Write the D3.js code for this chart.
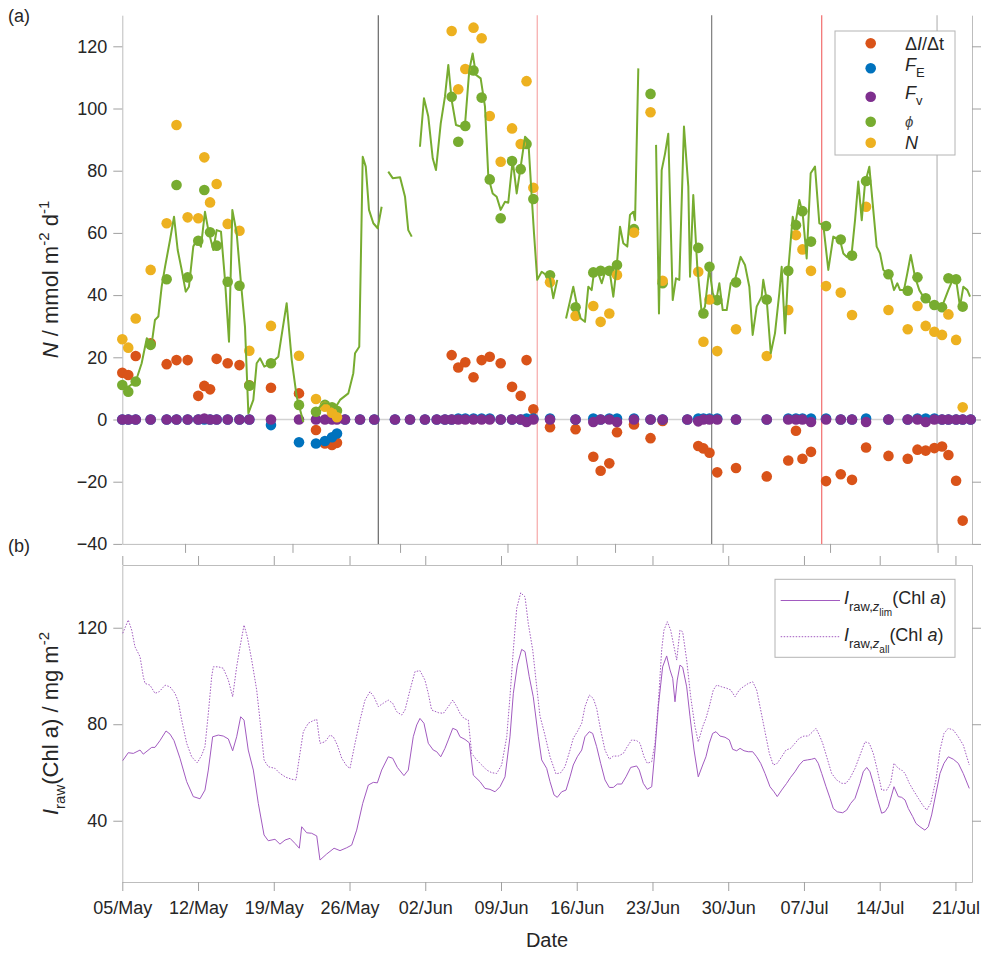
<!DOCTYPE html>
<html><head><meta charset="utf-8">
<script src="https://cdn.jsdelivr.net/npm/d3@7/dist/d3.min.js"></script>
<style>
body{margin:0;background:#fff}
svg{display:block}
text{font-family:"Liberation Sans",Arial,Helvetica,sans-serif}
</style>
</head><body>
<svg id="c" width="981" height="955"></svg>
<script>
// ---------------- DATA ----------------
// days after 05/May
const xTickLabels = ["05/May","12/May","19/May","26/May","02/Jun","09/Jun","16/Jun","23/Jun","30/Jun","07/Jul","14/Jul","21/Jul"];
const xTickDays = [0,7,14,21,28,35,42,49,56,63,70,77];
const topXTickDays = [5.8,15.73,25.67,35.6,45.54,55.48,65.41,75.35];
const topYTicks = [-40,-20,0,20,40,60,80,100,120];
const botYTicks = [40,80,120];
const eventDays = [23.66,38.35,54.47,64.64,75.3];

const sampleDays = [0,0.55,1.24,2.62,4.10,5.01,6.04,7.02,7.58,8.11,8.72,9.74,10.83,11.74,13.74,16.33,17.90,18.73,19.38,19.84,
  20.58,21.97,23.29,25.20,26.59,27.97,29.06,29.82,
  30.44,31.05,31.70,32.46,33.21,33.96,34.97,36.02,36.82,37.36,37.99,39.53,41.89,43.53,44.21,45.01,45.72,47.29,48.82,49.94,
  52.22,
  53.23,53.71,54.27,54.98,56.72,59.56,61.55,62.26,62.86,63.65,65.04,66.40,67.44,68.74,70.81,72.59,73.49,74.25,75.05,75.76,76.35,77.06,77.67,
  78.41];
const dIdt = [15,14.3,20.4,24.5,17.8,19.1,19.1,7.6,10.8,9.7,19.5,18.1,17.5,11,10.2,8.4,-3.4,-7.7,-8.2,-7.5,
  null,null,null,null,null,null,null,null,
  20.7,16.7,18.4,13.6,19.1,20.2,18.1,10.5,7.6,19.1,3.3,-2.5,-3.1,-12,-16.5,-14.1,-4.1,-1.6,-6,-0.5,
  null,
  -8.5,-9.3,-10.7,-17,-15.6,-18.3,-13.2,-3.6,-12.6,-10.4,-19.8,-17.6,-19.4,-9,-11.7,-12.6,-9.7,-10,-9.2,-8.7,-11.4,-19.7,-32.5,
  null];
const FE = [0,0,0,0,0,0,0,0,0,0,0,0,0,0,-1.8,-7.3,-7.7,-6.9,-5.7,-4.5,
  0,0,0,0,0,0,0,0,
  0,0.3,0.3,0.3,0.3,0.3,0,0,0,0.3,0.3,0.3,0,0.3,0,0.3,0.3,0.3,0,0,
  0,
  0.3,0.3,0.3,0.3,0,0,0.3,0.3,0.3,0.3,0.3,0,0,0.3,0,0,0.3,0.3,0.3,0,0,0,0,
  0];
const Fv = [0,0,0,0,0,0,0,0,0.3,0,0,0,0,0,0,0,0,0,0,0,
  0,0,0,0,0,0,0,0,
  0,0,0,0,0,0,0,0,0,-0.8,0,0,0,-0.8,0,0,-0.8,0,0,0,
  0,
  -0.6,0,0,0,0,0,0,0,0,-0.8,0,0,0,-0.8,0,0,0,-0.8,0,0,0,0,0,
  0];
const phiPts = [11.1,8.9,12.2,24,45.1,75.4,45.7,57.5,73.8,60.2,55.9,44.3,43,10.9,18.1,4.7,2.5,4.7,3.9,2.8,
  null,null,null,null,null,null,null,null,
  103.8,89.3,94.4,112.2,103.5,77.2,64.7,83.1,80.5,88.6,70.9,46.4,36.1,47.3,47.8,47.8,49.7,61.2,104.7,43.8,
  null,
  55.2,34.1,49.1,38.4,44.1,38.6,47.8,62.5,67,57.2,62.2,57.9,52.7,76.7,46.7,41.4,45.7,39,36.8,36.1,45.4,45.1,36.3,
  null];
const Npts = [25.8,23.1,32.5,48.1,63.1,94.7,65,64.7,84.3,69.8,75.7,62.9,60.7,22.1,30.1,20.5,6.6,4.1,2.2,0.7,
  null,null,null,null,null,null,null,null,
  124.9,106.2,112.7,126,122.6,97.6,82.9,93.6,88.6,108.8,74.5,44.1,33.3,36.5,31.4,34.1,46.5,60.1,98.8,44.6,
  null,
  47.5,25,38.6,22,29,20.4,35.2,59.3,54.7,47.8,42.9,40.8,33.6,68.4,35.2,29,36.5,30.1,28.2,27.2,33.8,25.6,3.9,
  null];

// continuous phi record (null = gap)
const phiLineDays = [0,0.55,1.24,1.79,2.26,2.72,3.02,3.33,3.64,3.95,4.41,4.78,5.12,5.49,5.86,6.16,6.56,6.88,7.27,7.64,7.95,8.41,8.72,9.12,9.49,9.86,10.17,10.57,10.97,11.34,11.65,12.11,12.42,12.73,13.12,13.74,14.42,15.19,15.66,16.12,16.73,
  17.2,
  17.81,18.58,19.04,19.66,20.12,20.89,21.35,21.51,21.90,22.22,22.50,22.80,23.20,23.60,23.97,
  24.3,
  24.58,24.99,25.67,26.13,26.43,26.75,
  27.1,
  27.51,27.88,28.28,28.69,28.99,29.43,29.82,30.13,30.44,30.84,31.28,31.67,32.07,32.38,32.69,33.12,33.52,33.83,34.23,34.60,34.97,35.37,35.67,36.08,36.45,36.82,37.22,37.52,37.84,38.05,38.35,38.76,39.16,39.53,39.83,40.20,
  40.6,
  41.01,41.68,42.05,42.37,42.76,43.07,43.38,43.60,43.99,44.31,44.71,45.07,45.38,45.69,46.00,46.30,46.67,46.92,47.23,47.39,47.69,
  48.5,
  49.33,49.60,49.85,50.16,50.46,50.87,51.17,51.48,51.91,52.31,52.47,52.77,53.14,53.55,53.85,54.25,54.57,54.87,55.18,55.49,55.86,56.23,56.63,57.15,57.55,57.95,58.26,58.63,59.09,59.24,59.56,59.93,60.32,60.72,60.94,61.25,61.55,61.96,62.17,62.57,62.88,63.25,63.62,64.02,64.42,64.79,65.25,65.71,66.33,66.64,66.95,67.41,67.72,68.02,68.34,68.64,69.04,69.35,69.72,70.03,70.33,70.65,71.01,71.32,71.63,71.88,72.24,72.55,72.87,73.26,73.66,74.03,74.34,74.71,75.11,75.51,75.88,76.34,76.74,77.11,77.42,77.73,78.10,78.35];
const phiLineValues = [11.1,10.5,12.2,18.1,26.1,24.5,32,33.1,42.7,49.1,57.7,65.2,54.5,48.1,41.1,42.7,55.6,57.7,55.6,66.8,60.9,54.5,60.9,60.4,44.9,25,67.4,59.9,43.8,29.8,2,6.3,18.1,19.7,17,18.1,20.2,37.4,19.1,7.3,-0.8,
  null,
  2.5,5.2,5.2,3.6,6.3,8.4,14.9,21.3,23.4,84.5,81.3,67.4,63.1,61.5,68.4,
  null,
  79.7,77.6,77.9,71.6,60.9,58.8,
  null,
  87.7,103.3,97.4,84,80.2,95.2,103.8,114,102.7,94.7,94.2,94.7,112.4,117.7,110.8,109.7,100.6,78,72.7,71.6,67.4,70,69.7,83.4,72.7,81.3,90.9,89.9,71.6,59.9,44.9,47.5,46.5,45.4,39,44.9,
  null,
  32.5,42.7,36.3,32.5,31.4,42.7,41.6,47.5,47,43.8,48.6,47,39.5,49.1,62,56.7,55.6,65.8,66.8,64.1,112.9,
  null,
  88.3,34.1,80.2,85.5,91.9,38.4,45.4,44.9,94.2,74.9,45.9,72.2,49.1,34.1,36.3,48.6,40.6,37.9,43.8,35.2,35.2,43.8,44.9,52.3,49.7,42.7,27.2,36.3,39.5,44.9,38.4,21.3,27.7,40.6,49.1,27.7,48.1,65.2,62,70.6,66.3,51.8,79.2,81.3,63.1,62.5,48.1,58.8,57.7,53.4,52.3,53.4,64.1,76.5,64.1,75.9,81.3,69.5,55.6,53.4,48.1,47,45.9,41.6,43.8,41.6,41.6,47,52.9,45.9,41.6,39.5,38.4,37.4,36.8,35.8,37.4,41.6,44.9,43.8,36.3,42.7,41.6,39.5];

// I_raw(Chl a), z_lim (solid)
const chlLimDays = [0.04,0.55,1.02,1.64,1.94,2.72,3.02,3.48,4.04,4.41,4.78,5.33,5.95,6.56,7.18,7.64,7.95,8.35,8.87,9.33,9.80,10.20,10.57,10.94,11.25,11.64,12.11,12.57,13.10,13.49,14.11,14.57,15.04,15.50,15.96,16.36,16.58,17.04,17.50,17.97,18.27,18.89,19.57,20.12,20.74,21.20,21.66,22.22,22.74,23.20,23.57,23.97,24.58,24.99,25.42,26.03,26.43,26.89,27.21,27.51,27.88,28.28,28.74,29.06,29.43,29.82,30.13,30.54,30.91,31.21,31.67,32.07,32.44,33.06,33.52,33.98,34.45,34.91,35.37,35.83,36.14,36.51,36.91,37.22,37.61,37.98,38.45,38.76,39.22,39.53,39.90,40.20,40.61,41.01,41.38,41.68,42.05,42.46,42.76,43.16,43.47,43.84,44.21,44.61,45.01,45.38,45.75,46.15,46.55,46.99,47.54,47.78,48.15,48.52,48.93,49.23,49.54,49.94,50.31,50.62,50.87,51.08,51.29,51.54,51.79,52.16,52.47,52.84,53.23,53.64,53.94,54.25,54.56,54.87,55.24,55.70,56.10,56.41,56.78,57.09,57.46,57.85,58.26,58.63,59.00,59.40,59.86,60.23,60.53,60.94,61.40,61.77,62.17,62.57,62.94,63.31,63.71,64.02,64.32,64.64,65.04,65.41,65.71,66.08,66.58,66.95,67.32,67.72,68.18,68.48,68.80,69.10,69.41,69.78,70.18,70.49,70.79,71.11,71.32,71.72,72.03,72.34,72.64,73.05,73.35,73.72,74.18,74.49,74.80,75.20,75.57,75.94,76.34,76.80,77.26,77.72,78.28];
const chlLimValues = [64.9,68.2,67.9,69.3,67.6,70.4,70.4,73.2,77.2,75.9,73.2,65.9,56.2,50,49.1,52.7,61,74.8,75.5,75.1,73.9,69,74.8,83.1,81.7,69.3,61,47.2,34.1,31.7,32.3,30.3,32,32.7,30.6,28.6,37.5,35,34.8,33.7,23.7,26.2,28.6,27.6,28.8,29.9,36.1,47.2,54.8,55.9,55.7,61,66.5,65.9,62.1,58.7,61,74.8,79.7,82.4,80.4,72.1,69.3,68.6,66.5,70,73.5,78.3,77.6,74.8,73.7,72.3,58.9,56.2,53.4,53,52,54.1,58.2,74.8,92.8,104.5,111,110.1,99.7,91.4,74.8,65.2,61.7,56.2,50.7,49.7,52,52.7,58.2,63.1,66.5,69.3,74.8,76.9,76.2,70.7,63.8,56.9,53.8,53.8,55.2,55.2,58.2,62.1,62.7,61,55.5,53,54.1,69.3,87.3,103.8,108.3,102.5,99,89.3,98.3,104.5,103.6,95.5,83.1,69.3,58.2,63.1,66.5,72.1,76.2,76.9,75.1,74.6,73.5,69.6,69,70,69,68.6,68.6,66.5,63.8,59.6,54.1,52,50,52.7,55.5,58,60.3,63.1,64.9,65.2,65.5,65.9,63.8,59.6,54.1,49.3,45.1,43.7,43.3,44.4,47.2,49.3,55.5,60.3,62.1,60.3,55.5,49.3,43.1,43.7,45.8,50.7,54.1,50,49.7,48.6,45.1,41.7,38.9,37.5,36.1,37.5,42.4,51.4,59.6,63.8,66.5,65.5,63.8,59.6,53.4];

// I_raw(Chl a), z_all (dotted)
const chlAllDays = [0.04,0.55,0.87,1.17,1.64,1.94,2.10,2.56,3.02,3.42,3.95,4.41,4.87,5.18,5.49,5.95,6.41,6.93,7.34,7.64,7.95,8.26,8.41,8.87,9.33,9.80,10.20,10.57,10.88,11.25,11.55,11.96,12.42,12.79,13.10,13.49,14.11,14.57,15.13,15.66,16.05,16.42,16.73,17.19,17.65,17.97,18.27,18.73,19.20,19.50,19.87,20.28,20.74,21.04,21.51,21.97,22.43,22.89,23.26,23.66,24.12,24.58,24.99,25.36,25.82,26.13,26.59,27.05,27.51,27.97,28.28,28.59,29.20,29.67,30.13,30.54,30.91,31.21,31.58,31.98,32.29,32.75,33.22,33.68,34.14,34.60,35.06,35.53,35.83,36.14,36.45,36.82,37.22,37.52,37.93,38.30,38.60,39.06,39.53,40.08,40.52,40.91,41.38,41.68,42.05,42.46,42.76,43.16,43.53,43.84,44.21,44.61,45.01,45.38,45.84,46.30,46.67,47.08,47.54,47.85,48.22,48.52,48.93,49.23,49.54,49.85,50.06,50.37,50.68,50.99,51.24,51.54,51.79,52.16,52.53,52.93,53.23,53.64,53.94,54.25,54.62,54.93,55.40,55.86,56.23,56.63,57.02,57.39,57.85,58.26,58.63,59.00,59.40,59.80,60.17,60.53,60.94,61.34,61.77,62.17,62.57,63.00,63.40,63.81,64.11,64.42,64.73,65.10,65.56,66.02,66.49,66.88,67.25,67.72,68.18,68.64,69.04,69.41,69.78,70.18,70.65,71.01,71.32,71.72,72.03,72.34,72.74,73.10,73.57,73.97,74.34,74.71,75.20,75.57,75.94,76.34,76.80,77.26,77.72,78.28];
const chlAllValues = [117.7,123.2,119,112.1,108,99.7,96.9,96.2,92.8,93.5,96.2,95.5,92.8,89.3,81.7,72.1,66.5,64,67.2,70.7,84.5,99.7,103.8,103.8,103.2,98.3,91.4,103.8,112.1,121.1,116.3,106.6,94.2,79,65.2,62.4,61.7,59.6,58,57.2,56.9,67.9,76.9,80.4,81.5,82,72.1,72.7,75.5,74.8,71.4,65.9,62.7,61.7,72.1,81.7,90,93.5,91.4,87.3,88.7,90,88.7,85.2,83.8,85.9,94.2,101.8,102.2,98.3,92.8,85.9,84.8,84.5,87.3,90,87.3,84.5,82.4,81.7,67.9,65.2,63.1,61,59.9,59.6,63.1,74.8,91.4,110.8,128,134.5,132.8,121.8,110.8,95.5,83.5,75.5,66.5,59.4,59.9,62.4,69.3,74.2,76.9,80.4,87.3,92.1,90.7,86.6,77.6,69.3,65.5,66.8,66.8,67.9,70.7,73.5,73.2,72.1,66.5,63.8,64.5,72.1,88.7,110.8,119,122.5,119,112.1,106.6,119,118.3,106.6,91.4,79,72.7,79,82.4,87.3,94.2,96.2,95.5,94.9,94.2,91.4,94.2,95.5,96.9,97.6,94.2,85.9,76.9,67.9,63.1,63.8,66.5,69.3,70,72.1,74.2,75.1,75.1,76.9,78.3,75.5,72.1,66.5,59.6,56.9,55.5,55.5,57.6,61.7,67.2,72.7,72.1,67.9,61,52.7,52.7,55.5,63.8,61.7,61,59.6,55.5,52.7,49.3,46.5,44.4,47.2,56.9,69.3,76.2,78.3,77.6,74.8,71.4,63.1];

// ---------------- STYLE ----------------
const C = {dIdt:"#D95319", FE:"#0072BD", Fv:"#7E2F8E", phi:"#77AC30", N:"#EDB120", chl:"#A25BC0"};
const eventColors = ["#666666","#f6a8a8","#7d7d7d","#f26d6d","#b8b8b8"];
const AX = "#bdbdbd", TK = "#a0a0a0", TXT = "#262626";

// ---------------- SCALES ----------------
const svg = d3.select("#c");
const t0 = new Date(2019,4,5);
const toDate = d => new Date(t0.getTime() + d*864e5);
const x = d3.scaleTime().domain([t0, toDate(78.53)]).range([122.3, 972]);
const yTop = d3.scaleLinear().domain([-40,130]).range([543.9, 15.2]);
const yBot = d3.scaleLinear().domain([14.6,146]).range([882, 565]);

function styleAxis(g){
  g.select(".domain").attr("stroke",AX).attr("stroke-width",1);
  g.selectAll(".tick line").attr("stroke",TK).attr("stroke-width",1);
  g.selectAll(".tick text").attr("fill",TXT).attr("font-size",18).attr("font-family","'Liberation Sans',Arial,sans-serif");
}

// ---------------- PANEL (a) ----------------
const gA = svg.append("g");
gA.append("g").attr("transform","translate(122.3,0)")
  .call(d3.axisLeft(yTop).tickValues(topYTicks).tickSize(9).tickSizeOuter(0).tickPadding(6)).call(styleAxis);
gA.append("g").attr("transform","translate(972,0)")
  .call(d3.axisRight(yTop).tickValues(topYTicks).tickSize(9).tickSizeOuter(0).tickFormat("")).call(styleAxis);
gA.append("g").attr("transform","translate(0,543.9)")
  .call(d3.axisBottom(x).tickValues(topXTickDays.map(toDate)).tickSize(9).tickSizeOuter(0).tickFormat("")).call(styleAxis);

// zero line
gA.append("line").attr("x1",x.range()[0]).attr("x2",x.range()[1])
  .attr("y1",yTop(0)).attr("y2",yTop(0)).attr("stroke","#d2d2d2").attr("stroke-width",1.5);
// event lines
gA.selectAll("line.ev").data(eventDays).join("line").attr("class","ev")
  .attr("x1",d=>x(toDate(d))).attr("x2",d=>x(toDate(d)))
  .attr("y1",yTop.range()[1]).attr("y2",yTop.range()[0])
  .attr("stroke",(d,i)=>eventColors[i]).attr("stroke-width",1.2);

const series = [
  {key:"dIdt", vals:dIdt}, {key:"FE", vals:FE}, {key:"Fv", vals:Fv}, {key:"phi", vals:phiPts}, {key:"N", vals:Npts}
];
series.forEach(s=>{
  const pts = sampleDays.map((d,i)=>({d, v:s.vals[i]})).filter(p=>p.v!==null);
  gA.append("g").selectAll("circle").data(pts).join("circle")
    .attr("cx",p=>x(toDate(p.d))).attr("cy",p=>yTop(p.v)).attr("r",5.3)
    .attr("fill",C[s.key]);
});
const phiLine = d3.line().defined(p=>p.v!==null)
  .x(p=>x(toDate(p.d))).y(p=>yTop(p.v));
gA.append("path").datum(phiLineDays.map((d,i)=>({d, v:phiLineValues[i]})))
  .attr("d",phiLine).attr("fill","none").attr("stroke",C.phi).attr("stroke-width",2).attr("stroke-linejoin","round");

// legend (a)
const lgA = svg.append("g");
lgA.append("rect").attr("x",835).attr("y",31).attr("width",120).attr("height",124)
  .attr("fill","#fff").attr("stroke","#b4b4b4").attr("stroke-width",1);
const legRows = [
  {key:"dIdt", y:43.3}, {key:"FE", y:68.3}, {key:"Fv", y:96.7}, {key:"phi", y:121.7}, {key:"N", y:142.7}
];
legRows.forEach(r=>{
  lgA.append("circle").attr("cx",870.7).attr("cy",r.y).attr("r",5.3).attr("fill",C[r.key]);
});
function lt(y){ return lgA.append("text").attr("x",905).attr("y",y).attr("font-size",18).attr("fill",TXT); }
let t = lt(49.5);
t.append("tspan").text("Δ"); t.append("tspan").attr("font-style","italic").text("I"); t.append("tspan").text("/Δt");
t = lt(70.5);
t.append("tspan").attr("font-style","italic").text("F"); t.append("tspan").attr("font-size",13).attr("dy",6).text("E");
t = lt(99);
t.append("tspan").attr("font-style","italic").text("F"); t.append("tspan").attr("font-size",13).attr("dy",6).text("v");
t = lt(127);
t.append("tspan").attr("font-style","italic").attr("font-size",15).attr("fill","#444").text("ϕ");
t = lt(149);
t.append("tspan").attr("font-style","italic").text("N");

// ---------------- PANEL (b) ----------------
const gB = svg.append("g");
gB.append("g").attr("transform","translate(122.3,0)")
  .call(d3.axisLeft(yBot).tickValues(botYTicks).tickSize(9).tickSizeOuter(0).tickPadding(6)).call(styleAxis);
gB.append("g").attr("transform","translate(972,0)")
  .call(d3.axisRight(yBot).tickValues(botYTicks).tickSize(9).tickSizeOuter(0).tickFormat("")).call(styleAxis);
gB.append("g").attr("transform","translate(0,882)")
  .call(d3.axisBottom(x).tickValues(xTickDays.map(toDate)).tickSize(9).tickSizeOuter(0).tickPadding(10)
    .tickFormat((d,i)=>xTickLabels[i])).call(styleAxis);
gB.append("g").attr("transform","translate(0,565)")
  .call(d3.axisTop(x).tickValues(xTickDays.map(toDate)).tickSize(9).tickSizeOuter(0).tickFormat("")).call(styleAxis);

const chlLine = d3.line().x(p=>x(toDate(p.d))).y(p=>yBot(p.v));
gB.append("path").datum(chlAllDays.map((d,i)=>({d, v:chlAllValues[i]})))
  .attr("d",chlLine).attr("fill","none").attr("stroke",C.chl).attr("stroke-width",1).attr("stroke-dasharray","1.5,1.5");
gB.append("path").datum(chlLimDays.map((d,i)=>({d, v:chlLimValues[i]})))
  .attr("d",chlLine).attr("fill","none").attr("stroke",C.chl).attr("stroke-width",1);

// legend (b)
const lgB = svg.append("g");
lgB.append("rect").attr("x",775).attr("y",579.3).attr("width",180).attr("height",78)
  .attr("fill","#fff").attr("stroke","#b4b4b4").attr("stroke-width",1);
lgB.append("line").attr("x1",780.7).attr("x2",840).attr("y1",600.5).attr("y2",600.5).attr("stroke",C.chl).attr("stroke-width",1);
lgB.append("line").attr("x1",780.7).attr("x2",840).attr("y1",636.7).attr("y2",636.7).attr("stroke",C.chl).attr("stroke-width",1).attr("stroke-dasharray","1.5,1.5");
function lb(y, sub){
  const tt = lgB.append("text").attr("x",844).attr("y",y).attr("font-size",18).attr("fill",TXT);
  tt.append("tspan").attr("font-style","italic").text("I");
  tt.append("tspan").attr("font-size",13).attr("dy",7).text("raw,");
  tt.append("tspan").attr("font-size",13).attr("font-style","italic").text("z");
  tt.append("tspan").attr("font-size",10).attr("dy",5).text(sub);
  tt.append("tspan").attr("dy",-12).text("(Chl ");
  tt.append("tspan").attr("font-style","italic").text("a");
  tt.append("tspan").text(")");
}
lb(604, "lim");
lb(641, "all");

// ---------------- LABELS ----------------
const yl1 = svg.append("text").attr("transform","translate(58,279.5) rotate(-90)")
  .attr("text-anchor","middle").attr("font-size",22).attr("fill",TXT);
yl1.append("tspan").attr("font-style","italic").text("N");
yl1.append("tspan").text(" / mmol m");
yl1.append("tspan").attr("font-size",15).attr("dy",-9).text("-2");
yl1.append("tspan").attr("dy",9).text(" d");
yl1.append("tspan").attr("font-size",15).attr("dy",-9).text("-1");

const yl2 = svg.append("text").attr("transform","translate(58,723.5) rotate(-90)")
  .attr("text-anchor","middle").attr("font-size",22).attr("fill",TXT);
yl2.append("tspan").attr("font-style","italic").text("I");
yl2.append("tspan").attr("font-size",15).attr("dy",7).text("raw");
yl2.append("tspan").attr("dy",-7).text("(Chl a) / mg m");
yl2.append("tspan").attr("font-size",15).attr("dy",-9).text("-2");

svg.append("text").attr("x",547).attr("y",947).attr("text-anchor","middle")
  .attr("font-size",20).attr("fill",TXT).text("Date");
svg.append("text").attr("x",8).attr("y",22).attr("font-size",18).attr("fill",TXT).text("(a)");
svg.append("text").attr("x",8).attr("y",552).attr("font-size",18).attr("fill",TXT).text("(b)");
</script>
</body></html>
